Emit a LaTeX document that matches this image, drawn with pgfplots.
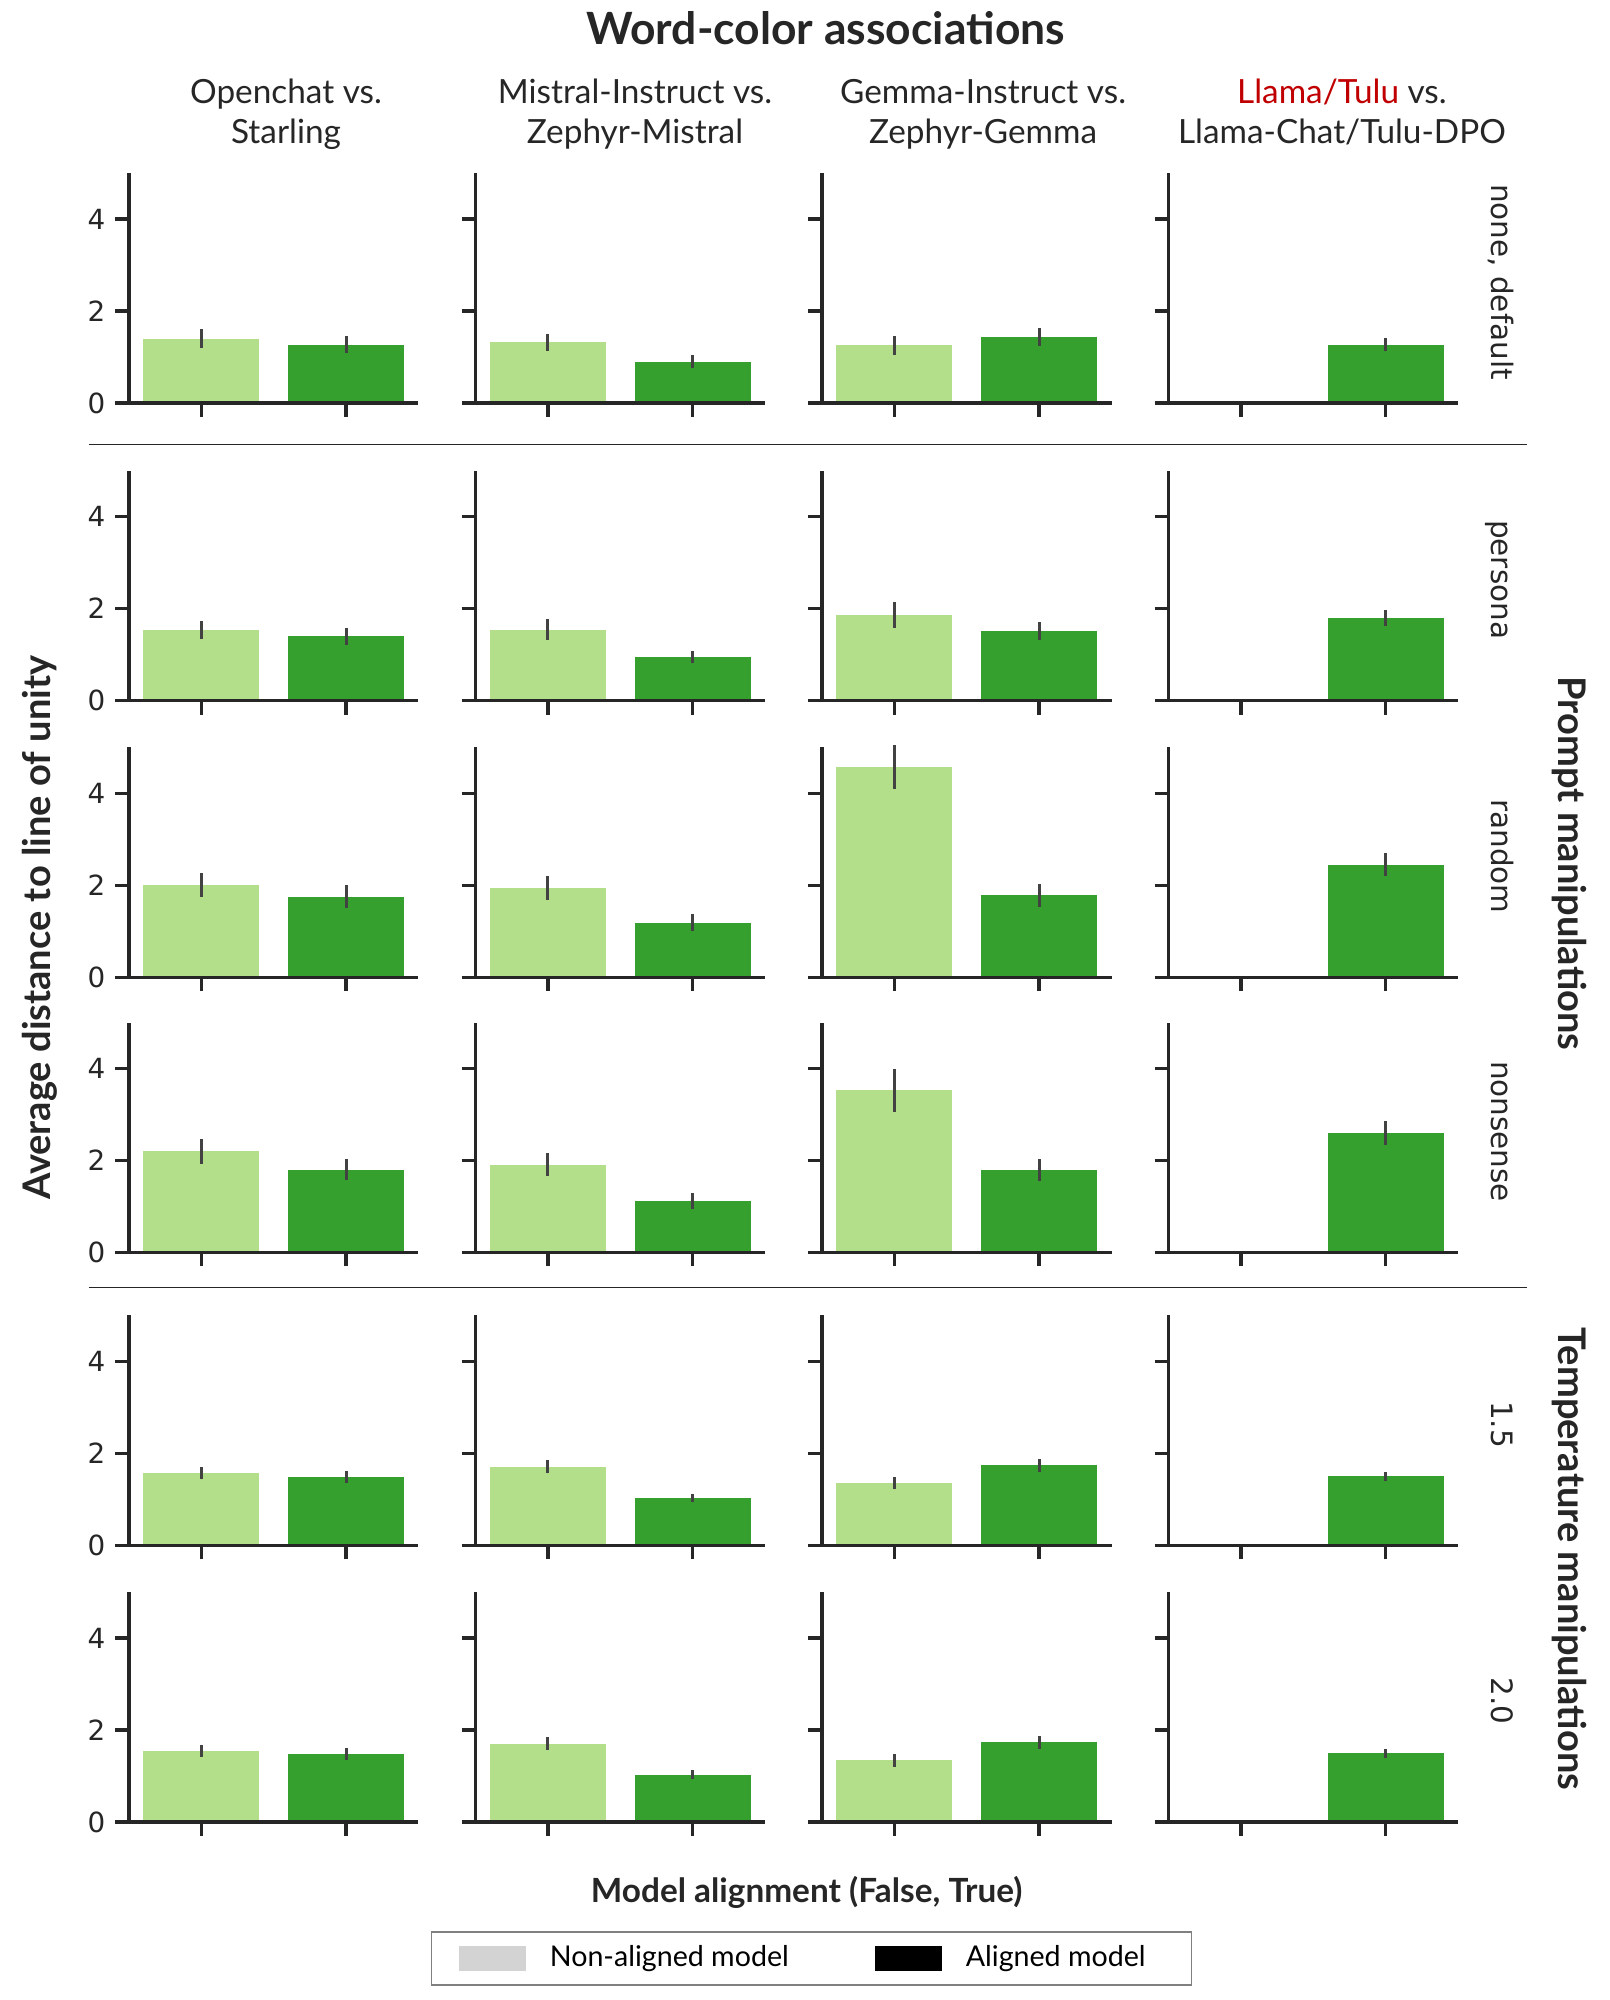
\documentclass[border=0pt]{standalone}
\usepackage{pgfplots}
\pgfplotsset{compat=1.18}
\usepackage{fontspec}
\setmainfont{Lato}
\newfontfamily\dejavu{DejaVu Sans}

\definecolor{light}{HTML}{B3DF8A}
\definecolor{dark}{HTML}{35A02D}
\definecolor{errc}{HTML}{424242}
\definecolor{ink}{HTML}{262626}
\definecolor{llred}{HTML}{C00000}
\definecolor{lgray}{HTML}{D3D3D3}

\pgfplotsset{
  panel/.style={
    scale only axis, width=104.22pt, height=82.8pt,
    anchor=south west, clip=false, axis on top,
    xmin=-0.5, xmax=1.5, ymin=0, ymax=5,
    axis lines*=left,
    axis line style={ink, line width=1.25pt, -},
    xtick={0,1}, xticklabels={}, ytick={0,2,4},
    tick align=outside, major tick length=5pt,
    major tick style={ink, line width=1.25pt},
    xtick pos=left, ytick pos=left,
    yticklabel style={font=\dejavu\fontsize{10}{12}\selectfont, text=ink},
  },
  lab/.style={yticklabels={0,2,4}},
  nolab/.style={yticklabels={}},
  lbar/.style={ybar, bar width=0.8, bar shift=0pt, fill=light, draw=none,
    error bars/.cd, y dir=both, y explicit, error mark=none,
    error bar style={errc, line width=1.1pt}},
  dbar/.style={ybar, bar width=0.8, bar shift=0pt, fill=dark, draw=none,
    error bars/.cd, y dir=both, y explicit, error mark=none,
    error bar style={errc, line width=1.1pt}},
}

\begin{document}
\begin{tikzpicture}
\useasboundingbox (0,0) rectangle (579.24pt,720pt);

% titles
\node[anchor=base, text=ink, font=\bfseries\fontsize{16}{19}\selectfont] at (297.2pt,704.1pt) {Word-color associations};
\begin{scope}[every node/.style={anchor=base, text=ink, font=\fontsize{12}{14}\selectfont}]
  \node at (102.96pt,682.7pt) {Openchat vs.};
  \node at (102.96pt,668.3pt) {Starling};
  \node at (228.6pt,682.7pt) {Mistral-Instruct vs.};
  \node at (228.6pt,668.3pt) {Zephyr-Mistral};
  \node at (353.9pt,682.7pt) {Gemma-Instruct vs.};
  \node at (353.9pt,668.3pt) {Zephyr-Gemma};
  \node at (483.1pt,682.7pt) {\textcolor{llred}{Llama/Tulu} vs.};
  \node at (483.1pt,668.3pt) {Llama-Chat/Tulu-DPO};
\end{scope}

% row labels
\begin{scope}[every node/.style={anchor=base, rotate=-90, text=ink, font=\dejavu\fontsize{10.6}{12}\selectfont}]
  \node at (537.1pt,618.48pt) {none, default};
  \node at (537.1pt,511.31pt) {persona};
  \node at (537.1pt,411.73pt) {random};
  \node at (537.1pt,312.62pt) {nonsense};
  \node at (537.1pt,207.18pt) {1.5};
  \node at (537.1pt,107.68pt) {2.0};
\end{scope}
\begin{scope}[every node/.style={anchor=base, rotate=-90, text=ink, font=\bfseries\fontsize{13.7}{16}\selectfont}]
  \node at (561.2pt,409.1pt) {Prompt manipulations};
  \node at (561.2pt,158.8pt) {Temperature manipulations};
\end{scope}
\node[anchor=base, rotate=90, text=ink, font=\bfseries\fontsize{13.7}{16}\selectfont] at (18pt,386pt) {Average distance to line of unity};
\node[anchor=base, text=ink, font=\bfseries\fontsize{12}{14}\selectfont] at (290.4pt,35pt) {Model alignment (False, True)};

% separators
\draw[ink, line width=0.5pt] (32pt,560pt) -- (549.7pt,560pt);
\draw[ink, line width=0.5pt] (32pt,256.6pt) -- (549.7pt,256.6pt);

% ---- row 1: none, default
\begin{axis}[panel, lab, at={(46.44pt,574.92pt)}]
  \addplot[lbar] coordinates {(0,1.40) +- (0,0.20)};
  \addplot[dbar] coordinates {(1,1.27) +- (0,0.19)};
\end{axis}
\begin{axis}[panel, nolab, at={(171.18pt,574.92pt)}]
  \addplot[lbar] coordinates {(0,1.32) +- (0,0.18)};
  \addplot[dbar] coordinates {(1,0.90) +- (0,0.14)};
\end{axis}
\begin{axis}[panel, nolab, at={(295.92pt,574.92pt)}]
  \addplot[lbar] coordinates {(0,1.25) +- (0,0.21)};
  \addplot[dbar] coordinates {(1,1.43) +- (0,0.19)};
\end{axis}
\begin{axis}[panel, nolab, at={(420.66pt,574.92pt)}]
  \addplot[lbar] coordinates {(0,0) +- (0,0)};
  \addplot[dbar] coordinates {(1,1.27) +- (0,0.15)};
\end{axis}

% ---- row 2: persona
\begin{axis}[panel, lab, at={(46.44pt,467.75pt)}]
  \addplot[lbar] coordinates {(0,1.54) +- (0,0.20)};
  \addplot[dbar] coordinates {(1,1.40) +- (0,0.19)};
\end{axis}
\begin{axis}[panel, nolab, at={(171.18pt,467.75pt)}]
  \addplot[lbar] coordinates {(0,1.54) +- (0,0.23)};
  \addplot[dbar] coordinates {(1,0.95) +- (0,0.14)};
\end{axis}
\begin{axis}[panel, nolab, at={(295.92pt,467.75pt)}]
  \addplot[lbar] coordinates {(0,1.87) +- (0,0.28)};
  \addplot[dbar] coordinates {(1,1.51) +- (0,0.20)};
\end{axis}
\begin{axis}[panel, nolab, at={(420.66pt,467.75pt)}]
  \addplot[lbar] coordinates {(0,0) +- (0,0)};
  \addplot[dbar] coordinates {(1,1.80) +- (0,0.17)};
\end{axis}

% ---- row 3: random
\begin{axis}[panel, lab, at={(46.44pt,368.17pt)}]
  \addplot[lbar] coordinates {(0,2.01) +- (0,0.26)};
  \addplot[dbar] coordinates {(1,1.75) +- (0,0.25)};
\end{axis}
\begin{axis}[panel, nolab, at={(171.18pt,368.17pt)}]
  \addplot[lbar] coordinates {(0,1.95) +- (0,0.26)};
  \addplot[dbar] coordinates {(1,1.19) +- (0,0.19)};
\end{axis}
\begin{axis}[panel, nolab, at={(295.92pt,368.17pt)}]
  \addplot[lbar] coordinates {(0,4.57) +- (0,0.48)};
  \addplot[dbar] coordinates {(1,1.78) +- (0,0.25)};
\end{axis}
\begin{axis}[panel, nolab, at={(420.66pt,368.17pt)}]
  \addplot[lbar] coordinates {(0,0) +- (0,0)};
  \addplot[dbar] coordinates {(1,2.45) +- (0,0.25)};
\end{axis}

% ---- row 4: nonsense
\begin{axis}[panel, lab, at={(46.44pt,269.06pt)}]
  \addplot[lbar] coordinates {(0,2.20) +- (0,0.27)};
  \addplot[dbar] coordinates {(1,1.80) +- (0,0.23)};
\end{axis}
\begin{axis}[panel, nolab, at={(171.18pt,269.06pt)}]
  \addplot[lbar] coordinates {(0,1.91) +- (0,0.25)};
  \addplot[dbar] coordinates {(1,1.12) +- (0,0.17)};
\end{axis}
\begin{axis}[panel, nolab, at={(295.92pt,269.06pt)}]
  \addplot[lbar] coordinates {(0,3.53) +- (0,0.47)};
  \addplot[dbar] coordinates {(1,1.79) +- (0,0.24)};
\end{axis}
\begin{axis}[panel, nolab, at={(420.66pt,269.06pt)}]
  \addplot[lbar] coordinates {(0,0) +- (0,0)};
  \addplot[dbar] coordinates {(1,2.60) +- (0,0.26)};
\end{axis}

% ---- row 5: temperature 1.5
\begin{axis}[panel, lab, at={(46.44pt,163.62pt)}]
  \addplot[lbar] coordinates {(0,1.57) +- (0,0.13)};
  \addplot[dbar] coordinates {(1,1.49) +- (0,0.13)};
\end{axis}
\begin{axis}[panel, nolab, at={(171.18pt,163.62pt)}]
  \addplot[lbar] coordinates {(0,1.71) +- (0,0.14)};
  \addplot[dbar] coordinates {(1,1.03) +- (0,0.09)};
\end{axis}
\begin{axis}[panel, nolab, at={(295.92pt,163.62pt)}]
  \addplot[lbar] coordinates {(0,1.35) +- (0,0.13)};
  \addplot[dbar] coordinates {(1,1.74) +- (0,0.14)};
\end{axis}
\begin{axis}[panel, nolab, at={(420.66pt,163.62pt)}]
  \addplot[lbar] coordinates {(0,0) +- (0,0)};
  \addplot[dbar] coordinates {(1,1.50) +- (0,0.10)};
\end{axis}

% ---- row 6: temperature 2.0 (carries the legend)
\begin{axis}[panel, lab, at={(46.44pt,64.12pt)},
    legend columns=2,
    legend cell align=left,
    legend style={at={(2.3576,-0.5926)}, anchor=center,
      draw=gray, line width=0.6pt, inner xsep=9.9pt, inner ysep=3pt,
      font=\fontsize{10.3}{12}\selectfont,
      /tikz/every odd column/.append style={column sep=6.7pt},
      /tikz/every even column/.append style={column sep=29pt}}]
  \addlegendimage{legend image code/.code={\fill[lgray] (0pt,-4.25pt) rectangle (23.4pt,4.25pt);}}
  \addlegendentry{Non-aligned model}
  \addlegendimage{legend image code/.code={\fill[black] (0pt,-4.25pt) rectangle (23.4pt,4.25pt);}}
  \addlegendentry{Aligned model\rule{4.6pt}{0pt}}
  \addplot[forget plot, lbar] coordinates {(0,1.55) +- (0,0.13)};
  \addplot[forget plot, dbar] coordinates {(1,1.47) +- (0,0.13)};
\end{axis}
\begin{axis}[panel, nolab, at={(171.18pt,64.12pt)}]
  \addplot[lbar] coordinates {(0,1.70) +- (0,0.14)};
  \addplot[dbar] coordinates {(1,1.03) +- (0,0.10)};
\end{axis}
\begin{axis}[panel, nolab, at={(295.92pt,64.12pt)}]
  \addplot[lbar] coordinates {(0,1.34) +- (0,0.14)};
  \addplot[dbar] coordinates {(1,1.73) +- (0,0.14)};
\end{axis}
\begin{axis}[panel, nolab, at={(420.66pt,64.12pt)}]
  \addplot[lbar] coordinates {(0,0) +- (0,0)};
  \addplot[dbar] coordinates {(1,1.49) +- (0,0.10)};
\end{axis}
\end{tikzpicture}
\end{document}
